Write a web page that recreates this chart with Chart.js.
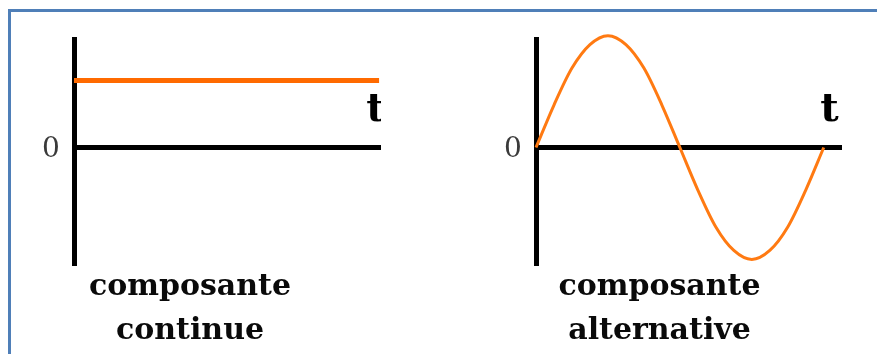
<!DOCTYPE html>
<html>
<head>
<meta charset="utf-8">
<script src="https://cdn.jsdelivr.net/npm/chart.js@4/dist/chart.umd.min.js"></script>
<style>
  body { margin: 0; background: #fff; }
  #wrap { position: relative; width: 877px; height: 354px; overflow: hidden; }
  #frame { position: absolute; left: 8px; top: 9px; right: -10px; bottom: -10px;
           border-top: 3px solid #4f7fb8; border-left: 3px solid #4f7fb8; }
  canvas { position: absolute; top: 0; }
</style>
</head>
<body>
<div id="wrap">
  <div id="frame"></div>
  <canvas id="dcChart" width="381" height="354" style="left:0px"></canvas>
  <canvas id="acChart" width="364" height="354" style="left:478px"></canvas>
</div>
<script>
// continuous component (flat line)
const dcX = [0, 0.997]
const dcY = [0.6, 0.6]
// alternating component, one period
const acX = [0, 0.0625, 0.125, 0.1875, 0.25, 0.3125, 0.375, 0.4375, 0.5,
             0.5625, 0.625, 0.6875, 0.75, 0.8125, 0.875, 0.9375, 1]
const acY = [0, 0.38, 0.71, 0.92, 1, 0.92, 0.71, 0.38, 0,
             -0.38, -0.71, -0.92, -1, -0.92, -0.71, -0.38, 0]

const dcCaption = ['composante', 'continue']
const acCaption = ['composante', 'alternative']
const zeroLabel = '0'
const timeLabel = 't'

const toPoints = (xs, ys) => xs.map((x, i) => ({ x: x, y: ys[i] }))

// draws the "0" and "t" labels next to the axes
const axisLabels = {
  id: 'axisLabels',
  afterDraw(chart, args, opts) {
    const ctx = chart.ctx
    const xs = chart.scales.x
    const ys = chart.scales.y
    ctx.save()
    ctx.textAlign = 'center'
    ctx.textBaseline = 'middle'
    ctx.fillStyle = '#3a3a3a'
    ctx.font = '28px "DejaVu Serif"'
    ctx.fillText(zeroLabel, chart.chartArea.left - 23, ys.getPixelForValue(0) + 2)
    ctx.fillStyle = '#000'
    ctx.font = 'bold 40px "DejaVu Serif"'
    ctx.fillText(timeLabel, xs.getPixelForValue(opts.tx), ys.getPixelForValue(0.33))
    ctx.restore()
  }
}

const makeConfig = (points, color, width, xMax, caption, axisW, tx) => {
  return {
    type: 'line',
    data: {
      datasets: [{
        data: points,
        borderColor: color,
        borderWidth: width,
        borderCapStyle: 'butt',
        pointRadius: 0,
        cubicInterpolationMode: 'monotone',
        clip: false
      }]
    },
    options: {
      responsive: false,
      animation: false,
      devicePixelRatio: 1,
      layout: { padding: { left: 0, right: 1, top: 39, bottom: 1 } },
      plugins: {
        legend: { display: false },
        tooltip: { enabled: false },
        title: {
          display: true,
          position: 'bottom',
          text: caption,
          color: '#0a0a0a',
          padding: 0,
          font: { family: 'DejaVu Serif', weight: 'bold', size: 30, lineHeight: '44px' }
        },
        axisLabels: { tx: tx }
      },
      scales: {
        x: {
          type: 'linear',
          position: { y: 0 },
          min: 0,
          max: xMax,
          ticks: { display: false },
          grid: { display: false, drawTicks: false },
          border: { display: true, color: '#000', width: 5 }
        },
        y: {
          type: 'linear',
          position: 'left',
          min: -1.05,
          max: 0.97,
          ticks: { display: false },
          grid: { display: false, drawTicks: false },
          border: { display: true, color: '#000', width: 5 },
          afterFit: scale => { scale.width = axisW }
        }
      }
    },
    plugins: [axisLabels]
  }
}

new Chart(document.getElementById('dcChart'),
  makeConfig(toPoints(dcX, dcY), '#ff6a00', 5, 1, dcCaption, 74, 0.985))

new Chart(document.getElementById('acChart'),
  makeConfig(toPoints(acX, acY), '#ff7a12', 3, 1.06, acCaption, 58, 1.02))
</script>
</body>
</html>
